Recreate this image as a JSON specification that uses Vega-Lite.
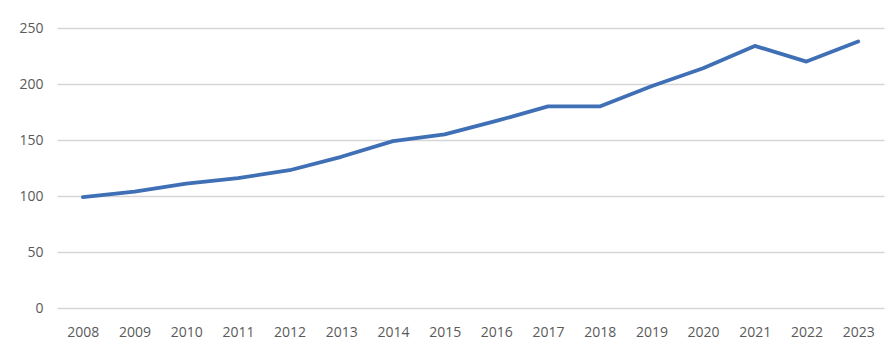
{
  "$schema": "https://vega.github.io/schema/vega-lite/v6.json",
  "autosize": "none",
  "width": 827,
  "height": 280,
  "padding": {"left": 57, "top": 28, "right": 5, "bottom": 38},
  "background": "white",
  "config": {"view": {"stroke": null}, "font": "Open Sans"},
  "data": {"values": [
    {"year": "2008", "value": 99},
    {"year": "2009", "value": 104},
    {"year": "2010", "value": 111},
    {"year": "2011", "value": 116},
    {"year": "2012", "value": 123},
    {"year": "2013", "value": 135},
    {"year": "2014", "value": 149},
    {"year": "2015", "value": 155},
    {"year": "2016", "value": 167},
    {"year": "2017", "value": 180},
    {"year": "2018", "value": 180},
    {"year": "2019", "value": 198},
    {"year": "2020", "value": 214},
    {"year": "2021", "value": 234},
    {"year": "2022", "value": 220},
    {"year": "2023", "value": 238}
  ]},
  "mark": {"type": "line", "color": "#3f6fb5", "strokeWidth": 3.8, "strokeCap": "round", "strokeJoin": "round"},
  "encoding": {
    "x": {"field": "year", "type": "ordinal", "scale": {"type": "point", "padding": 0.5},
      "axis": {"title": null, "labelAngle": 0, "domain": false, "ticks": false, "labelPadding": 17, "labelFontSize": 14, "labelColor": "#5a5a5a", "grid": false}},
    "y": {"field": "value", "type": "quantitative", "scale": {"domain": [0, 250], "nice": false},
      "axis": {"title": null, "values": [0, 50, 100, 150, 200, 250], "domain": false, "ticks": false, "labelPadding": 14, "labelFontSize": 14, "labelColor": "#5a5a5a", "gridColor": "#d6d6d6", "gridWidth": 1.5}}
  }
}
